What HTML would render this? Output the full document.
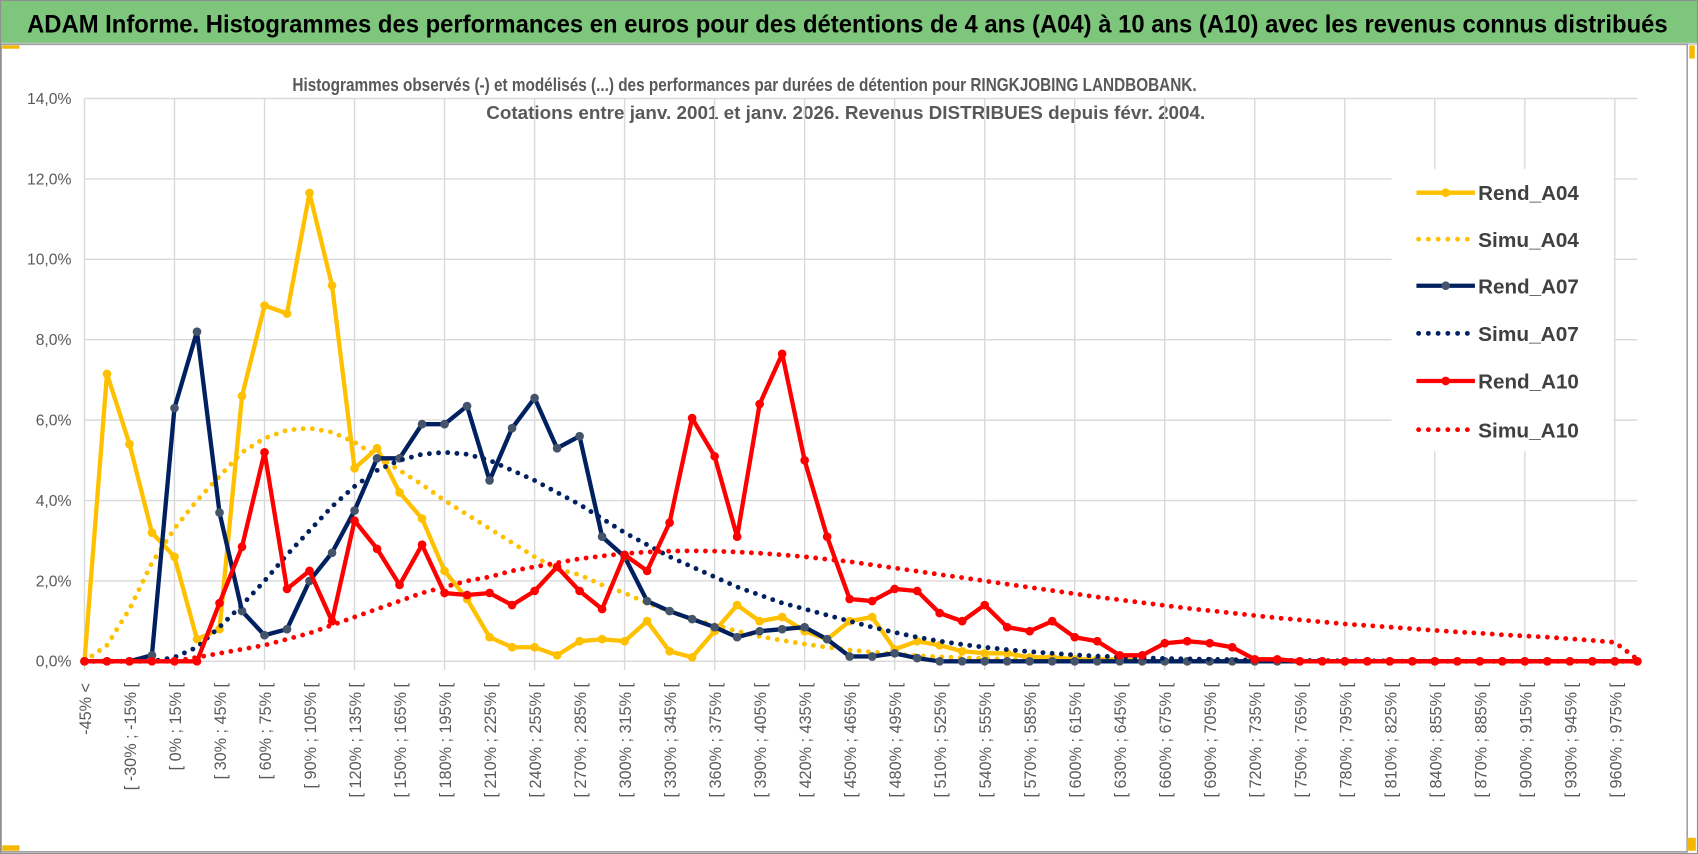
<!DOCTYPE html>
<html><head><meta charset="utf-8"><style>
html,body{margin:0;padding:0;background:#fff;}
svg{display:block;font-family:"Liberation Sans",sans-serif;}
</style></head><body>
<svg id="chart" width="1698" height="854" viewBox="0 0 1568 789" preserveAspectRatio="none" xmlns="http://www.w3.org/2000/svg">
<rect x="0" y="0" width="1568" height="789" fill="#fff"/>
<rect x="0" y="0" width="1568" height="40" fill="#7dc67b"/>
<line x1="0" y1="40.5" x2="1568" y2="40.5" stroke="#d0d0d0" stroke-width="2"/>
<text x="25" y="30" font-size="23" font-weight="bold" fill="#000" textLength="1515" lengthAdjust="spacingAndGlyphs">ADAM Informe. Histogrammes des performances en euros pour des détentions de 4 ans (A04) à 10 ans (A10) avec les revenus connus distribués</text>
<rect x="1" y="41" width="1557" height="746" fill="none" stroke="#a0a0a0" stroke-width="1.5"/>
<rect x="0.5" y="0.5" width="1567" height="788" fill="none" stroke="#909090" stroke-width="1"/>
<rect x="2" y="42" width="16" height="3" fill="#f5b800"/>
<rect x="2" y="781" width="16" height="5" fill="#f5b800"/>
<rect x="1560" y="42" width="5" height="12" fill="#f5b800"/>
<rect x="1558" y="774" width="8" height="12" fill="#f5b800"/>
<text x="270" y="84" font-size="17" font-weight="bold" fill="#595959" textLength="835" lengthAdjust="spacingAndGlyphs">Histogrammes observés (-) et modélisés (...) des performances par durées de détention pour RINGKJOBING LANDBOBANK.</text>
<text x="449" y="110" font-size="17" font-weight="bold" fill="#595959" textLength="664" lengthAdjust="spacingAndGlyphs">Cotations entre janv. 2001 et janv. 2026. Revenus DISTRIBUES depuis févr. 2004.</text>
<g id="grid"></g>
<g id="yaxis"></g>
<g id="xaxis"></g>
<g id="series"></g>
<g id="legend"></g>
</svg>
<script>
const yTicks = [0,2,4,6,8,10,12,14];
const yTickLabels = ["0,0%","2,0%","4,0%","6,0%","8,0%","10,0%","12,0%","14,0%"];
const rendA04 = [0,7.15,5.4,3.2,2.6,0.55,0.8,6.6,8.85,8.65,11.65,9.35,4.8,5.3,4.2,3.55,2.25,1.55,0.6,0.35,0.35,0.15,0.5,0.55,0.5,1.0,0.25,0.1,0.75,1.4,1.0,1.1,0.75,0.55,1.0,1.1,0.3,0.5,0.4,0.25,0.2,0.2,0.1,0.1,0.05,0.05,0.05,0,0,0,0,0,0,0,0,0,0,0,0,0,0,0,0,0,0,0,0,0,0,0];
const simuA04 = [0,0.4,1.3,2.45,3.3,4.0,4.6,5.2,5.55,5.75,5.8,5.7,5.45,5.1,4.75,4.4,4.0,3.65,3.3,2.95,2.6,2.3,2.15,1.9,1.7,1.45,1.25,1.05,0.9,0.75,0.62,0.52,0.43,0.35,0.28,0.23,0.18,0.14,0.11,0.09,0.07,0.05,0.04,0.03,0.02,0.02,0.01,0.01,0,0,0,0,0,0,0,0,0,0,0,0,0,0,0,0,0,0,0,0,0,0];
const rendA07 = [0,0,0,0.15,6.3,8.2,3.7,1.25,0.65,0.8,2.0,2.7,3.75,5.05,5.05,5.9,5.9,6.35,4.5,5.8,6.55,5.3,5.6,3.1,2.6,1.5,1.25,1.05,0.85,0.6,0.75,0.8,0.85,0.55,0.12,0.12,0.2,0.08,0,0,0,0,0,0,0,0,0,0,0,0,0,0,0,0,0,0,0,0,0,0,0,0,0,0,0,0,0,0,0,0];
const simuA07 = [0,0,0,0,0.1,0.35,0.85,1.4,2.0,2.65,3.25,3.85,4.35,4.75,5.0,5.15,5.2,5.15,5.0,4.75,4.5,4.2,3.9,3.55,3.2,2.9,2.6,2.35,2.1,1.85,1.65,1.45,1.3,1.15,1.0,0.85,0.72,0.6,0.5,0.42,0.35,0.29,0.24,0.2,0.16,0.13,0.11,0.09,0.07,0.06,0.05,0.04,0.03,0.03,0.02,0.02,0.01,0.01,0.01,0,0,0,0,0,0,0,0,0,0,0];
const rendA10 = [0,0,0,0,0,0,1.45,2.85,5.2,1.8,2.25,1.0,3.5,2.8,1.9,2.9,1.7,1.65,1.7,1.4,1.75,2.35,1.75,1.3,2.65,2.25,3.45,6.05,5.1,3.1,6.4,7.65,5.0,3.1,1.55,1.5,1.8,1.75,1.2,1.0,1.4,0.85,0.75,1.0,0.6,0.5,0.15,0.15,0.45,0.5,0.45,0.35,0.05,0.05,0,0,0,0,0,0,0,0,0,0,0,0,0,0,0,0];
const simuA10 = [0,0,0,0,0,0.1,0.2,0.3,0.4,0.55,0.7,0.9,1.1,1.3,1.5,1.7,1.85,2.0,2.1,2.25,2.35,2.45,2.55,2.62,2.68,2.72,2.74,2.75,2.74,2.72,2.69,2.65,2.6,2.54,2.48,2.4,2.32,2.24,2.16,2.08,2.0,1.92,1.84,1.76,1.68,1.6,1.53,1.46,1.39,1.32,1.26,1.2,1.14,1.08,1.03,0.98,0.93,0.89,0.85,0.81,0.77,0.73,0.7,0.66,0.63,0.6,0.56,0.52,0.47,0.05];
const seriesNames = ["Rend_A04","Simu_A04","Rend_A07","Simu_A07","Rend_A10","Simu_A10"];
const categories = ["-45% <"];
for (let a = -45; a <= 975; a += 15) categories.push(a < 975 ? "[ " + a + "% ; " + (a + 15) + "% [" : "975% >=");

const NS = "http://www.w3.org/2000/svg";
const X0 = 78, X1 = 1512, Y0 = 611, YTOP = 91;
const n = 70;
function xs(i){ return X0 + (X1 - X0) * i / (n - 1); }
function ys(v){ return Y0 - (Y0 - YTOP) * v / 14; }
function mk(tag, attrs, parent){ const e = document.createElementNS(NS, tag); for (const k in attrs) e.setAttribute(k, attrs[k]); parent.appendChild(e); return e; }

const grid = document.getElementById("grid");
yTicks.forEach(t => {
  const l = mk("line", {x1: X0, x2: X1, y1: ys(t), y2: ys(t), stroke: "#d9d9d9", "stroke-width": 1.3}, grid);
  
  
});
for (let i = 0; i < n; i += 4) {
  const l = mk("line", {x1: xs(i), x2: xs(i), y1: YTOP, y2: Y0 + 8, stroke: "#d9d9d9", "stroke-width": 1.3}, grid);
  
  
}
const yax = document.getElementById("yaxis");
yTicks.forEach((t, k) => {
  const tx = mk("text", {x: 66, y: ys(t) + 5, "font-size": 14.5, fill: "#595959", "text-anchor": "end"}, yax);
  tx.textContent = yTickLabels[k];
  
  
});
const xax = document.getElementById("xaxis");
for (let i = 0; i < n - 1; i += 2) {
  const x = xs(i) + 6, y = 631;
  const tx = mk("text", {x: x, y: y, "font-size": 15, fill: "#595959", "text-anchor": "end", transform: "rotate(-90 " + x + " " + y + ")"}, xax);
  tx.textContent = categories[i];
  
  
}
const ser = document.getElementById("series");
function drawLine(data, color, name){
  const d = data.map((v, i) => (i ? "L" : "M") + xs(i).toFixed(1) + " " + ys(v).toFixed(1)).join(" ");
  const p = mk("path", {d: d, fill: "none", stroke: color, "stroke-width": 4, "stroke-linejoin": "round"}, ser);
  
  
}
function drawDots(data, color, mcolor, name){
  drawLine(data, color, name + "-line");
  data.forEach((v, i) => {
    const c = mk("circle", {cx: xs(i), cy: ys(v), r: 4, fill: mcolor}, ser);
    
    
  });
}
function drawDotted(data, color, name){
  const d = data.map((v, i) => (i ? "L" : "M") + xs(i).toFixed(1) + " " + ys(v).toFixed(1)).join(" ");
  const p = mk("path", {d: d, fill: "none", stroke: color, "stroke-width": 4.5, "stroke-linecap": "round", "stroke-dasharray": "0 8.5"}, ser);
  
  
}
drawDots(rendA04, "#ffc000", "#ffc000", "rend-a04");
drawDotted(simuA04, "#ffc000", "simu-a04");
drawDots(rendA07, "#002060", "#44546a", "rend-a07");
drawDotted(simuA07, "#002060", "simu-a07");
drawDots(rendA10, "#ff0000", "#ff0000", "rend-a10");
drawDotted(simuA10, "#ff0000", "simu-a10");

const leg = document.getElementById("legend");
const lbg = mk("rect", {x: 1285, y: 156, width: 205, height: 261, fill: "#fff"}, leg);


const legColors = ["#ffc000","#ffc000","#002060","#002060","#ff0000","#ff0000"];
const legMarker = ["#ffc000",null,"#44546a",null,"#ff0000",null];
const legY = [178,221,264,308,352,397];
seriesNames.forEach((nm, k) => {
  const y = legY[k];
  if (legMarker[k]) {
    const l = mk("line", {x1: 1308, x2: 1362, y1: y, y2: y, stroke: legColors[k], "stroke-width": 4}, leg);
    
    
    const c = mk("circle", {cx: 1335, cy: y, r: 4, fill: legMarker[k]}, leg);
    
    
  } else {
    const l = mk("line", {x1: 1310, x2: 1360, y1: y, y2: y, stroke: legColors[k], "stroke-width": 4.5, "stroke-linecap": "round", "stroke-dasharray": "0 9"}, leg);
    
    
  }
  const t = mk("text", {x: 1365, y: y + 7, "font-size": 19, "font-weight": "bold", fill: "#404040", textLength: 93, lengthAdjust: "spacingAndGlyphs"}, leg);
  t.textContent = nm;
  
  
});
</script>
</body></html>
